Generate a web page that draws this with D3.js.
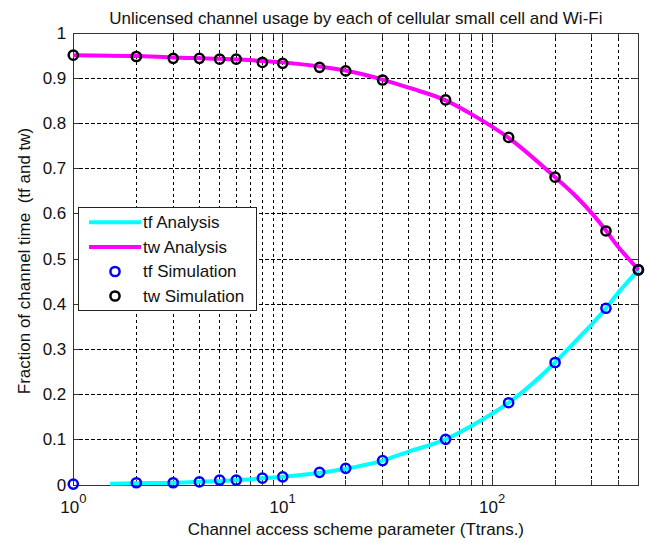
<!DOCTYPE html>
<html>
<head>
<meta charset="utf-8">
<script src="https://cdn.jsdelivr.net/npm/d3@7"></script>
<style>
  html, body { margin: 0; padding: 0; background: #fff; }
  svg { display: block; }
  text { font-family: "Liberation Sans", Arial, sans-serif; fill: #111; }
</style>
</head>
<body>
<script>
// ---- data ----
const simX  = [1, 2, 3, 4, 5, 6, 8, 10, 15, 20, 30, 60, 120, 200, 350, 500];
const tfSim = [0.002, 0.005, 0.005, 0.007, 0.011, 0.011, 0.015, 0.018, 0.028, 0.037, 0.054, 0.101, 0.182, 0.271, 0.391, 0.476];
const twSim = [0.951, 0.948, 0.944, 0.944, 0.942, 0.942, 0.935, 0.933, 0.924, 0.916, 0.896, 0.852, 0.769, 0.681, 0.562, 0.476];

const tfAnaX = [1.5, 2, 3, 5, 10, 15, 20, 30, 40, 60, 80, 120, 200, 250, 300, 350, 400, 450, 500];
const tfAna  = [0.003, 0.004, 0.005, 0.009, 0.018, 0.027, 0.036, 0.054, 0.074, 0.101, 0.131, 0.182, 0.271, 0.318, 0.356, 0.391, 0.425, 0.452, 0.476];
const twAnaX = [1, 2, 3, 5, 10, 15, 20, 30, 40, 60, 80, 120, 200, 250, 300, 350, 400, 450, 500];
const twAna  = [0.951, 0.949, 0.946, 0.943, 0.935, 0.926, 0.917, 0.897, 0.879, 0.851, 0.820, 0.768, 0.681, 0.640, 0.601, 0.563, 0.527, 0.500, 0.476];

const yTicks = [0, 0.1, 0.2, 0.3, 0.4, 0.5, 0.6, 0.7, 0.8, 0.9, 1];
const yTickLabels = ["0", "0.1", "0.2", "0.3", "0.4", "0.5", "0.6", "0.7", "0.8", "0.9", "1"];
const xMajor = [1, 10, 100];
const xMajorExp = ["0", "1", "2"];
const xMinor = [2, 3, 4, 5, 6, 7, 8, 9, 20, 30, 40, 50, 60, 70, 80, 90, 200, 300, 400];

const titleText = "Unlicensed channel usage by each of cellular small cell and Wi-Fi";
const xLabel = "Channel access scheme parameter (Ttrans.)";
const yLabel = "Fraction of channel time  (tf and tw)";
const legendItems = [
  {label: "tf Analysis", type: "line", color: "#00ffff"},
  {label: "tw Analysis", type: "line", color: "#ff00ff"},
  {label: "tf Simulation", type: "marker", color: "#0000ff"},
  {label: "tw Simulation", type: "marker", color: "#000000"}
];

// ---- layout ----
const W = 645, H = 543;
const L = 73.3, R = 638.4, T = 33, B = 485;

const svg = d3.select("body").append("svg").attr("width", W).attr("height", H);

const x = d3.scaleLog().domain([1, 500]).range([L, R]);
const y = d3.scaleLinear().domain([0, 1]).range([B, T]);

// grid
const grid = svg.append("g").attr("stroke", "#000").attr("stroke-width", 1)
  .attr("stroke-dasharray", "3.5,2.5").attr("fill", "none");
xMajor.concat(xMinor).filter(v => v > 1).forEach(v => {
  grid.append("line").attr("x1", x(v)).attr("x2", x(v)).attr("y1", B).attr("y2", T).attr("shape-rendering", "crispEdges");
});
yTicks.filter(v => v > 0 && v < 1).forEach(v => {
  grid.append("line").attr("x1", L).attr("x2", R).attr("y1", y(v)).attr("y2", y(v)).attr("shape-rendering", "crispEdges");
});

// axes box & ticks
const ax = svg.append("g").attr("stroke", "#333").attr("stroke-width", 1).attr("shape-rendering", "crispEdges");
ax.append("rect").attr("x", L).attr("y", T).attr("width", R - L).attr("height", B - T).attr("fill", "none");
yTicks.forEach(v => {
  ax.append("line").attr("x1", L).attr("x2", L + 6).attr("y1", y(v)).attr("y2", y(v));
  ax.append("line").attr("x1", R).attr("x2", R - 6).attr("y1", y(v)).attr("y2", y(v));
});
xMajor.forEach(v => {
  ax.append("line").attr("x1", x(v)).attr("x2", x(v)).attr("y1", B).attr("y2", B - 10);
  ax.append("line").attr("x1", x(v)).attr("x2", x(v)).attr("y1", T).attr("y2", T + 10);
});
xMinor.forEach(v => {
  ax.append("line").attr("x1", x(v)).attr("x2", x(v)).attr("y1", B).attr("y2", B - 5);
  ax.append("line").attr("x1", x(v)).attr("x2", x(v)).attr("y1", T).attr("y2", T + 5);
});

// tick labels
yTicks.forEach((v, i) => {
  svg.append("text").attr("x", L - 7).attr("y", y(v)).attr("text-anchor", "end")
    .attr("dominant-baseline", "central").attr("font-size", 17).text(yTickLabels[i]);
});
xMajor.forEach((v, i) => {
  const t = svg.append("text").attr("x", x(v)).attr("y", 512.5).attr("text-anchor", "middle").attr("font-size", 17);
  t.append("tspan").text("10");
  t.append("tspan").attr("dy", -10).attr("font-size", 13).text(xMajorExp[i]);
});

// lines
const line = d3.line().x(d => x(d[0])).y(d => y(d[1])).curve(d3.curveMonotoneX);
svg.append("path").datum(tfAnaX.map((v, i) => [v, tfAna[i]]))
  .attr("d", line).attr("fill", "none").attr("stroke", "#00ffff").attr("stroke-width", 4);
svg.append("path").datum(twAnaX.map((v, i) => [v, twAna[i]]))
  .attr("d", line).attr("fill", "none").attr("stroke", "#ff00ff").attr("stroke-width", 4);

// markers
svg.append("g").selectAll("circle").data(simX.map((v, i) => [v, tfSim[i]])).join("circle")
  .attr("cx", d => x(d[0])).attr("cy", d => y(d[1])).attr("r", 4.6)
  .attr("fill", "none").attr("stroke", "#0000ff").attr("stroke-width", 2.5);
svg.append("g").selectAll("circle").data(simX.map((v, i) => [v, twSim[i]])).join("circle")
  .attr("cx", d => x(d[0])).attr("cy", d => y(d[1])).attr("r", 4.6)
  .attr("fill", "none").attr("stroke", "#000").attr("stroke-width", 2.5);

// legend
const lg = svg.append("g");
lg.append("rect").attr("x", 78.5).attr("y", 207).attr("width", 178).attr("height", 103)
  .attr("fill", "#fff").attr("stroke", "#222").attr("stroke-width", 1).attr("shape-rendering", "crispEdges");
const legY = [222.3, 247, 271.5, 296];
legendItems.forEach((it, i) => {
  if (it.type === "line") {
    lg.append("line").attr("x1", 89).attr("x2", 141).attr("y1", legY[i]).attr("y2", legY[i])
      .attr("stroke", it.color).attr("stroke-width", 4);
  } else {
    lg.append("circle").attr("cx", 115).attr("cy", legY[i]).attr("r", 4.6)
      .attr("fill", "none").attr("stroke", it.color).attr("stroke-width", 2.5);
  }
  lg.append("text").attr("x", 143).attr("y", legY[i]).attr("dominant-baseline", "central")
    .attr("font-size", 17).text(it.label);
});

// title & axis labels
svg.append("text").attr("x", (L + R) / 2).attr("y", 24).attr("text-anchor", "middle")
  .attr("font-size", 17).text(titleText);
svg.append("text").attr("x", (L + R) / 2).attr("y", 535).attr("text-anchor", "middle")
  .attr("font-size", 17).text(xLabel);
svg.append("text").attr("transform", "translate(30,261) rotate(-90)").attr("text-anchor", "middle")
  .style("white-space", "pre").attr("font-size", 17).text(yLabel);
</script>
</body>
</html>
